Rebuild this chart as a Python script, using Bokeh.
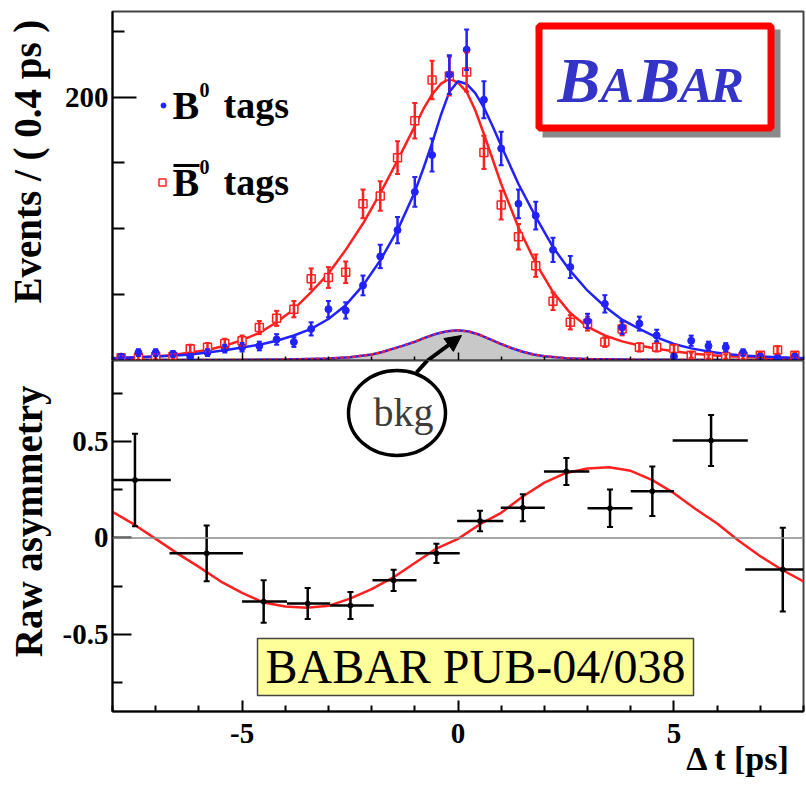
from bokeh.plotting import figure
from bokeh.layouts import column
from bokeh.models import (FixedTicker, Whisker, TeeHead, ColumnDataSource, Span,
                          Arrow, NormalHead, Range1d)
from bokeh.core.properties import value
from bokeh.embed import file_html
from bokeh.resources import INLINE

# ---------------- data ----------------
bin_centers = [-7.8, -7.4, -7.0, -6.6, -6.2, -5.8, -5.4, -5.0, -4.6, -4.2,
               -3.8, -3.4, -3.0, -2.6, -2.2, -1.8, -1.4, -1.0, -0.6, -0.2,
               0.2, 0.6, 1.0, 1.4, 1.8, 2.2, 2.6, 3.0, 3.4, 3.8,
               4.2, 4.6, 5.0, 5.4, 5.8, 6.2, 6.6, 7.0, 7.4, 7.8]
b0_counts = [3, 6, 6, 5, 3, 6, 9, 10, 11, 16,
             14, 24, 39, 38, 57, 79, 99, 128, 156, 217,
             236, 198, 161, 119, 110, 84, 71, 30, 43, 25,
             28, 19, 3, 15, 11, 10, 6, 3, 2, 3]
b0_err = [2, 2.5, 2.5, 2.3, 2, 2.5, 3, 3.2, 3.3, 4,
          3.7, 5, 6.2, 6.2, 7.5, 8.9, 10, 11.3, 12.5, 14.7,
          15.4, 14, 12.7, 10.9, 10.5, 9.2, 8.4, 5.5, 6.6, 5,
          5.3, 4.4, 2, 3.9, 3.3, 3.2, 2.5, 2, 1.6, 2]
b0bar_counts = [2, 2, 3, 3, 9, 10, 13, 15, 25, 32,
                39, 62, 63, 67, 119, 125, 154, 182, 213, 216,
                219, 158, 118, 94, 72, 45, 29, 28, 14, 24,
                10, 10, 9, 4, 3, 3, 3, 4, 8, 4]
b0bar_err = [1.6, 1.6, 2, 2, 3, 3.2, 3.6, 3.9, 5, 5.7,
             6.2, 7.9, 7.9, 8.2, 10.9, 11.2, 12.4, 13.5, 14.6, 14.7,
             14.8, 12.6, 10.9, 9.7, 8.5, 6.7, 5.4, 5.3, 3.7, 4.9,
             3.2, 3.2, 3, 2, 1.7, 1.7, 1.7, 2, 2.8, 2]

fit_t = [-8.0, -7.4, -7.0, -6.6, -6.2, -5.8, -5.4, -5.0, -4.6, -4.2,
         -3.8, -3.4, -3.0, -2.6, -2.2, -1.8, -1.4, -1.0, -0.8, -0.6,
         -0.4, -0.2, 0.0, 0.2, 0.4, 0.6, 0.8, 1.0, 1.4, 1.8,
         2.2, 2.6, 3.0, 3.4, 3.8, 4.2, 4.6, 5.0, 5.4, 5.8,
         6.2, 6.6, 7.0, 7.4, 8.0]
b0_fit = [1.8, 2.4, 3.0, 3.6, 4.5, 6.0, 7.8, 9.8, 12.0, 15.0,
          19.0, 24.0, 31.5, 42, 57, 76, 99, 128, 146, 165,
          186, 204, 212, 210, 203, 192, 178, 163, 134, 109,
          86, 68, 53, 41, 31, 24, 17.5, 12.5, 9.2, 6.8,
          5.0, 3.8, 3.0, 2.4, 1.8]
b0bar_fit = [1.8, 2.4, 3.0, 4.2, 6.0, 8.0, 11.2, 15.5, 21, 29,
             39, 52, 66, 84, 104, 127, 152, 178, 191, 202,
             210, 214, 211, 204, 190, 172, 153, 134, 101, 74,
             52, 36, 25.5, 19, 14.5, 11.4, 9.0, 7.0, 5.3, 4.1,
             3.3, 2.8, 2.4, 2.1, 1.8]

bkg_t = [-8.0, -5.0, -4.0, -3.0, -2.5, -2.0, -1.75, -1.5, -1.25, -1.0,
         -0.75, -0.5, -0.25, 0.0, 0.25, 0.5, 0.75, 1.0, 1.25, 1.5,
         1.75, 2.0, 2.5, 3.0, 4.0, 5.0, 8.0]
bkg_fit = [0.1, 0.3, 0.7, 1.5, 2.5, 4.5, 6.5, 9.0, 11.5, 14.2,
           17.5, 20.3, 22.2, 23.0, 22.0, 19.5, 16.0, 12.5, 9.3, 6.6,
           4.6, 3.3, 1.8, 1.1, 0.5, 0.3, 0.1]

asym_t = [-7.48, -5.82, -4.5, -3.48, -2.49, -1.49, -0.5, 0.51, 1.5, 2.51,
          3.52, 4.5, 5.86, 7.52]
asym_lo = [-8.0, -6.68, -5.0, -3.96, -2.96, -1.98, -0.98, -0.02, 0.99, 1.99,
           3.0, 4.0, 4.97, 6.65]
asym_hi = [-6.65, -4.98, -3.96, -2.96, -1.95, -0.96, 0.04, 1.05, 2.01, 3.04,
           4.04, 5.0, 6.71, 8.0]
asym_val = [0.30, -0.08, -0.33, -0.34, -0.35, -0.22, -0.08, 0.088, 0.157, 0.345,
            0.154, 0.242, 0.505, -0.164]
asym_err = [0.24, 0.145, 0.11, 0.08, 0.07, 0.055, 0.05, 0.053, 0.07, 0.07,
            0.097, 0.128, 0.132, 0.217]

asym_fit_t = [-8.0, -7.5, -7.0, -6.5, -6.0, -5.5, -5.0, -4.5, -4.0, -3.5,
              -3.0, -2.5, -2.0, -1.5, -1.0, -0.5, 0.0, 0.5, 1.0, 1.5,
              2.0, 2.5, 3.0, 3.5, 4.0, 4.5, 5.0, 5.5, 6.0, 6.5,
              7.0, 7.5, 8.0]
asym_fit = [0.135, 0.07, -0.005, -0.08, -0.15, -0.225, -0.285, -0.335, -0.356, -0.362,
            -0.352, -0.315, -0.265, -0.205, -0.13, -0.055, -0.005, 0.07, 0.13, 0.215,
            0.287, 0.337, 0.36, 0.367, 0.348, 0.30, 0.232, 0.15, 0.075, -0.015,
            -0.095, -0.165, -0.225]

x_ticks = [-5, 0, 5]
x_minor = [-8, -7, -6, -4, -3, -2, -1, 1, 2, 3, 4, 6, 7, 8]
top_ticks = [200]
top_minor = [50, 100, 150, 250]
bot_ticks = [-0.5, 0, 0.5]
bot_minor = [-0.75, -0.25, 0.25, 0.75]

top_label = "Events / ( 0.4 ps )"
bot_label = "Raw asymmetry"
x_label = "\u0394 t [ps]"

# ---------------- geometry helpers (pixel -> data) ----------------
X_LO, X_HI = -8.0, 8.0
TOP_Y = (0.0, 265.0)
BOT_Y = (-0.9, 0.92)
FRAME_L, FRAME_R = 112, 803
TOP_T, MID, BOT_B = 11, 360, 711
BASE_FIX = 0.32   # text baseline correction (fraction of font size)


def xd(px):
    return X_LO + (px - FRAME_L) * (X_HI - X_LO) / (FRAME_R - FRAME_L)


def yt(py, size=0):
    py = py - BASE_FIX * size
    return TOP_Y[0] + (MID - py) * (TOP_Y[1] - TOP_Y[0]) / (MID - TOP_T)


def yb(py, size=0):
    py = py - BASE_FIX * size
    return BOT_Y[1] - (py - MID) * (BOT_Y[1] - BOT_Y[0]) / (BOT_B - MID)


SERIF = "Liberation Serif"
BLUE = "#2222ff"
RED = "#ff2020"
W = 806
NB = "\u00a0"

# ---------------- top panel ----------------
top = figure(width=W, height=MID, x_range=Range1d(X_LO, X_HI), y_range=Range1d(*TOP_Y),
             output_backend="svg", toolbar_location=None,
             min_border_left=FRAME_L, min_border_right=W - FRAME_R,
             min_border_top=TOP_T, min_border_bottom=0)
top.grid.visible = False
top.outline_line_color = "#444444"
top.outline_line_width = 2
top.background_fill_color = "white"
top.border_fill_color = "white"

top.yaxis.ticker = FixedTicker(ticks=top_ticks, minor_ticks=top_minor)
top.yaxis.major_tick_in = 24
top.yaxis.major_tick_out = 0
top.yaxis.minor_tick_in = 12
top.yaxis.minor_tick_out = 0
top.yaxis.major_tick_line_width = 2
top.yaxis.minor_tick_line_width = 2
top.yaxis.axis_line_width = 2
top.yaxis.major_label_standoff = 4
top.yaxis.major_label_text_font = SERIF
top.yaxis.major_label_text_font_style = "bold"
top.yaxis.major_label_text_font_size = "29px"
top.yaxis.major_label_text_color = "black"
top.yaxis.axis_label = NB * 5 + top_label
top.yaxis.axis_label_standoff = 13
top.yaxis.axis_label_text_font = SERIF
top.yaxis.axis_label_text_font_style = "bold"
top.yaxis.axis_label_text_font_size = "39px"
top.yaxis.axis_label_text_color = "black"

top.xaxis.ticker = FixedTicker(ticks=x_ticks, minor_ticks=x_minor)
top.xaxis.major_tick_in = 8
top.xaxis.major_tick_out = 0
top.xaxis.minor_tick_in = 4
top.xaxis.minor_tick_out = 0
top.xaxis.major_tick_line_width = 1.5
top.xaxis.minor_tick_line_width = 1.5
top.xaxis.axis_line_width = 2
top.xaxis.major_label_standoff = 0
top.xaxis.major_label_overrides = {-5: "", 0: "", 5: ""}
top.xaxis.major_label_text_font_size = "1px"

# background component
top.varea(x=bkg_t, y1=[0] * len(bkg_t), y2=bkg_fit, fill_color="#c8c8c8")
top.line(bkg_t, bkg_fit, line_color=BLUE, line_width=2.5)
top.line(bkg_t, bkg_fit, line_color=RED, line_width=2.5, line_dash="3 3")

# fits
top.line(fit_t, b0bar_fit, line_color=RED, line_width=2.5)
top.line(fit_t, b0_fit, line_color=BLUE, line_width=2.5)

# data with error bars
src_b = ColumnDataSource(dict(x=bin_centers, y=b0_counts,
                              lo=[c - e for c, e in zip(b0_counts, b0_err)],
                              hi=[c + e for c, e in zip(b0_counts, b0_err)]))
src_r = ColumnDataSource(dict(x=bin_centers, y=b0bar_counts,
                              lo=[c - e for c, e in zip(b0bar_counts, b0bar_err)],
                              hi=[c + e for c, e in zip(b0bar_counts, b0bar_err)]))
for src, col in ((src_r, RED), (src_b, BLUE)):
    top.add_layout(Whisker(base="x", lower="lo", upper="hi", source=src,
                           line_color=col, line_width=2.5, level="glyph",
                           upper_head=TeeHead(size=5, line_color=col, line_width=2),
                           lower_head=TeeHead(size=5, line_color=col, line_width=2)))
top.scatter("x", "y", source=src_r, marker="square", size=8, fill_color="white",
            line_color=RED, line_width=1.5)
top.scatter("x", "y", source=src_b, marker="circle", size=7, fill_color=BLUE,
            line_color=BLUE)

# legend (hand drawn to get superscript / overline)
leg_font = dict(text_font=value(SERIF), text_font_style=value("bold"),
                text_color="black", text_baseline="alphabetic", text_align="left")
top.scatter([xd(163)], [yt(105)], marker="circle", size=5, fill_color=BLUE, line_color=BLUE)
top.scatter([xd(162)], [yt(182)], marker="square", size=7, fill_color="white",
            line_color=RED, line_width=1.5)
top.text([xd(172)], [yt(118, 40)], text=["B"], text_font_size="40px", **leg_font)
top.text([xd(199)], [yt(96, 20)], text=["0"], text_font_size="20px", **leg_font)
top.text([xd(223)], [yt(117, 38)], text=["tags"], text_font_size="38px", **leg_font)
top.segment([xd(173)], [yt(165)], [xd(199)], [yt(165)], line_color="black", line_width=3)
top.text([xd(172)], [yt(195, 40)], text=["B"], text_font_size="40px", **leg_font)
top.text([xd(199)], [yt(173, 20)], text=["0"], text_font_size="20px", **leg_font)
top.text([xd(223)], [yt(194, 38)], text=["tags"], text_font_size="38px", **leg_font)

# BABAR logo
top.quad(left=[xd(542)], right=[xd(780)], top=[yt(29)], bottom=[yt(137)],
         fill_color="#8a8a8a", line_color=None)
top.quad(left=[xd(538.5)], right=[xd(770.5)], top=[yt(25.5)], bottom=[yt(127.5)],
         fill_color="white", line_color="#ff0000", line_width=7)
logo_font = dict(text_font=value(SERIF), text_font_style=value("bold italic"),
                 text_color="#3434c8", text_baseline="alphabetic", text_align="left")
for px, ch, sz in ((557, "B", 64), (600, "A", 50), (637, "B", 64),
                   (679, "A", 50), (710, "R", 50)):
    top.text([xd(px)], [yt(100, sz)], text=[ch], text_font_size=f"{sz}px", **logo_font)

# arrow pointing at the background
top.add_layout(Arrow(x_start=xd(427), y_start=yt(360), x_end=xd(461), y_end=yt(335),
                     line_color="black", line_width=4,
                     end=NormalHead(size=16, fill_color="black", line_color="black")))

# ---------------- bottom panel ----------------
bot = figure(width=W, height=787 - MID, x_range=top.x_range, y_range=Range1d(*BOT_Y),
             output_backend="svg", toolbar_location=None,
             min_border_left=FRAME_L, min_border_right=W - FRAME_R,
             min_border_top=0, min_border_bottom=787 - BOT_B)
bot.grid.visible = False
bot.outline_line_color = "#444444"
bot.outline_line_width = 2
bot.background_fill_color = "white"
bot.border_fill_color = "white"

bot.yaxis.ticker = FixedTicker(ticks=bot_ticks, minor_ticks=bot_minor)
bot.yaxis.major_label_overrides = {-0.5: "-0.5", 0: "0", 0.5: "0.5"}
bot.yaxis.major_tick_in = 19
bot.yaxis.major_tick_out = 0
bot.yaxis.minor_tick_in = 10
bot.yaxis.minor_tick_out = 0
bot.xaxis.ticker = FixedTicker(ticks=x_ticks, minor_ticks=x_minor)
bot.xaxis.major_label_overrides = {-5: "-5", 0: "0", 5: "5"}
bot.xaxis.major_tick_in = 11
bot.xaxis.major_tick_out = 0
bot.xaxis.minor_tick_in = 6
bot.xaxis.minor_tick_out = 0
bot.yaxis.major_label_standoff = 4
bot.xaxis.major_label_standoff = 12
for ax in (bot.xaxis, bot.yaxis):
    ax.axis_line_width = 2
    ax.major_tick_line_width = 2
    ax.minor_tick_line_width = 2
    ax.major_label_text_font = SERIF
    ax.major_label_text_font_style = "bold"
    ax.major_label_text_font_size = "29px"
    ax.major_label_text_color = "black"
    ax.axis_label_text_font = SERIF
    ax.axis_label_text_font_style = "bold"
    ax.axis_label_text_color = "black"

bot.yaxis.axis_label = NB * 3 + bot_label
bot.yaxis.axis_label_standoff = 10
bot.yaxis.axis_label_text_font_size = "39px"

xa = bot.xaxis[0]
xa.axis_label = NB * 66 + x_label
xa.axis_label_standoff = -6
xa.axis_label_text_font_size = "34px"

bot.add_layout(Span(location=0, dimension="width", line_color="#8a8a8a", line_width=1.5))
bot.line(asym_fit_t, asym_fit, line_color=RED, line_width=2.5)

src_a = ColumnDataSource(dict(x=asym_t, y=asym_val, lo_x=asym_lo, hi_x=asym_hi,
                              lo=[v - e for v, e in zip(asym_val, asym_err)],
                              hi=[v + e for v, e in zip(asym_val, asym_err)]))
bot.segment(x0="lo_x", y0="y", x1="hi_x", y1="y", source=src_a, line_color="black",
            line_width=2.5)
bot.add_layout(Whisker(base="x", lower="lo", upper="hi", source=src_a,
                       line_color="black", line_width=2.5, level="glyph",
                       upper_head=TeeHead(size=6, line_color="black", line_width=2),
                       lower_head=TeeHead(size=6, line_color="black", line_width=2)))
bot.scatter("x", "y", source=src_a, marker="circle", size=5, fill_color="black",
            line_color="black")

# "bkg" callout
bot.segment([xd(427)], [yb(360)], [xd(416)], [yb(372)], line_color="black", line_width=4)
bot.ellipse(x=[xd(396.5)], y=[yb(412.5)], width=[xd(445) - xd(348)],
            height=[yb(370) - yb(455)], fill_color="white", line_color="black",
            line_width=3.5)
bot.text([xd(403)], [yb(425, 40)], text=["bkg"], text_font=value(SERIF),
         text_font_size="40px", text_color="#3c3c3c", text_align="center",
         text_baseline="alphabetic")

# publication stamp
bot.quad(left=[xd(257)], right=[xd(693)], top=[yb(638)], bottom=[yb(695)],
         fill_color="#ffff99", line_color="#444444", line_width=1.5)
bot.text([xd(475)], [yb(681, 48)], text=["BABAR PUB-04/038"], text_font=value(SERIF),
         text_font_size="48px", text_color="black", text_align="center",
         text_baseline="alphabetic")

layout = column(top, bot, spacing=0)
open("out.html", "w").write(file_html(layout, INLINE))
